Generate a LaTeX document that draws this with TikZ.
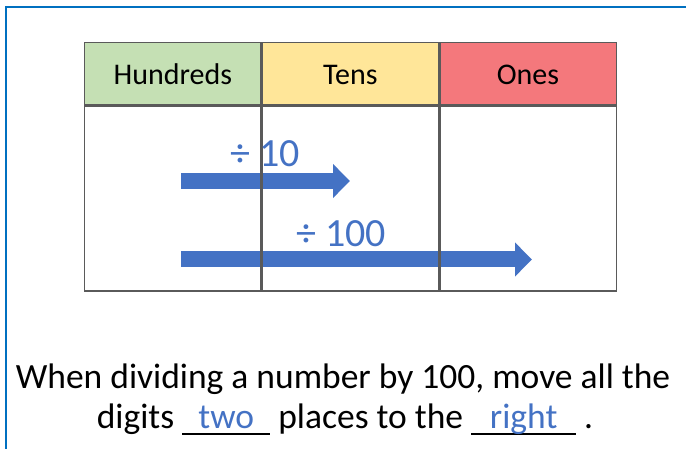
\documentclass[tikz,border=0pt]{standalone}
\usepackage{fontspec}
\setmainfont{Carlito}
\usetikzlibrary{arrows.meta}
\definecolor{frameblue}{HTML}{0070C0}
\definecolor{arrowblue}{HTML}{4472C4}
\definecolor{hgreen}{HTML}{C5E0B4}
\definecolor{hyellow}{HTML}{FFE699}
\definecolor{hred}{HTML}{F4787C}
\definecolor{gridgray}{HTML}{5A5A5A}
\newcommand\fillblank[2]{\makebox[0pt][l]{\rule[-0.18em]{#1}{0.05em}}\makebox[#1]{\textcolor{arrowblue}{#2}}}
\begin{document}
\begin{tikzpicture}[x=1pt,y=-1pt,
  cell/.style={draw=gridgray, line width=1.3pt, anchor=north west, inner sep=0pt,
    minimum width=176.3pt},
  hdr/.style={cell, minimum height=62pt, font=\fontsize{30}{36}\selectfont,
    text height=21pt, text depth=0pt},
  body/.style={cell, minimum height=185pt},
  blockarrow/.style={draw=arrowblue, line width=16pt, -{Triangle[length=17pt,width=33pt]}},
  lbl/.style={text=arrowblue, font=\fontsize{40}{48}\selectfont, anchor=base, inner sep=0pt},
  caption/.style={font=\fontsize{35.5}{43}\selectfont, anchor=base, inner sep=0pt}]
\useasboundingbox (0,0) rectangle (686,449);
% frame
\draw[frameblue, line width=2pt] (686,7.5) -- (6,7.5) -- (6,449);
% arrows
\coordinate (a1s) at (181,181);
\coordinate (a1e) at (350,181);
\coordinate (a2s) at (181,259.5);
\coordinate (a2e) at (532,259.5);
\draw[blockarrow] (a1s) -- (a1e);
\draw[blockarrow] (a2s) -- (a2e);
% table
\node[hdr, fill=hgreen] (h1) at (84,42) {Hundreds};
\node[hdr, fill=hyellow] (h2) at (h1.north east) {Tens};
\node[hdr, fill=hred] (h3) at (h2.north east) {Ones};
\node[body] (b1) at (h1.south west) {};
\node[body] (b2) at (h2.south west) {};
\node[body] (b3) at (h3.south west) {};
% labels
\node[lbl] (l1) at (265,166.7) {÷ 10};
\node[lbl] (l2) at (341,246.7) {÷ 100};
% caption
\node[caption] (c1) at (343,388.5) {When dividing a number by 100, move all the};
\node[caption] (c2) at (345,428.5) {digits \fillblank{88pt}{two} places to the \fillblank{105pt}{right} .};
\end{tikzpicture}
\end{document}
